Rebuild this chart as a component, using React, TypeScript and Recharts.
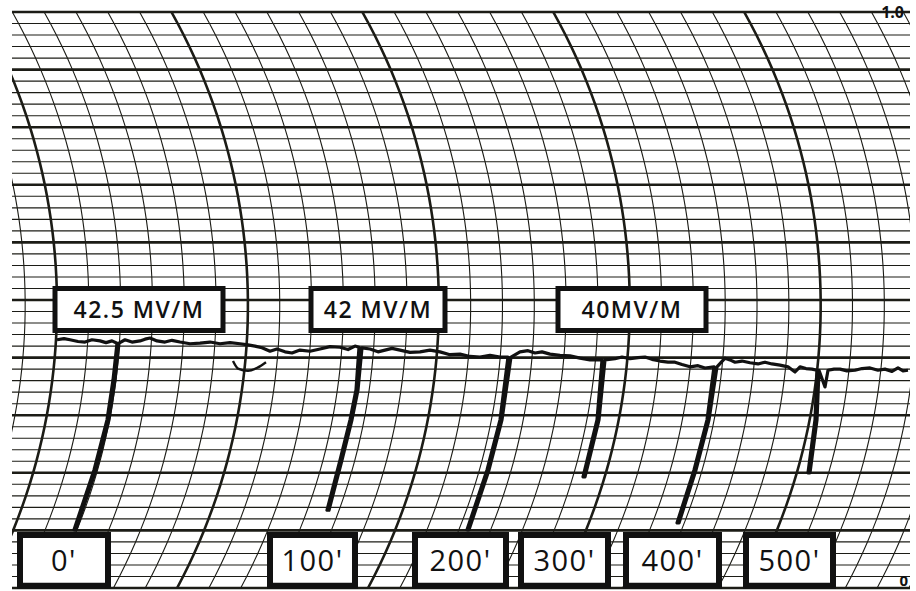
import React from 'react';
import { LineChart, Line, XAxis, YAxis, ReferenceLine, ReferenceArea } from 'recharts';

// strip position along the chart (0..898) and pen deflection (0 .. 1.0)
const traceX = [
  45, 52, 58, 66, 73, 80, 88, 94, 100,
  105, 101, 95, 82, 62,
  64, 84, 97, 103, 107,
  113, 120, 128, 133, 138, 145, 153, 160, 168, 178, 188, 198, 208, 218, 228, 236, 243, 250, 258, 265, 273, 280, 288, 298, 308, 318, 328, 336, 343,
  347, 344, 338, 328, 315,
  317, 330, 340, 346, 350,
  358, 366, 373, 380, 388, 398, 408, 418, 428, 438, 448, 458, 468, 478, 488,
  496, 488, 475, 455,
  457, 477, 490, 499,
  508, 516, 523, 530, 538, 548, 558, 568, 578,
  590, 585, 571,
  573, 587, 593,
  603, 610, 618, 626, 633, 640, 648, 656, 663, 670, 678, 686, 693,
  702, 695, 682, 665,
  667, 684, 697, 705,
  713, 718, 723, 730, 738, 746, 753, 760, 768, 776, 783, 788, 794, 800,
  805, 803, 796,
  798, 805, 807, 813, 816,
  822, 828, 835, 843, 850, 858, 866, 873, 880, 886, 891, 896,
];
const traceV = [
  0.431, 0.433, 0.431, 0.428, 0.427, 0.431, 0.429, 0.426, 0.429,
  0.425, 0.361, 0.292, 0.205, 0.101,
  0.101, 0.205, 0.292, 0.361, 0.425,
  0.431, 0.427, 0.429, 0.432, 0.434, 0.429, 0.427, 0.43, 0.427, 0.424, 0.425, 0.427, 0.424, 0.426, 0.424, 0.422, 0.42, 0.417, 0.411, 0.415, 0.41, 0.408, 0.413, 0.411, 0.415, 0.419, 0.418, 0.414, 0.42,
  0.418, 0.344, 0.292, 0.222, 0.135,
  0.135, 0.222, 0.292, 0.344, 0.417,
  0.415, 0.41, 0.413, 0.416, 0.413, 0.409, 0.41, 0.413, 0.41, 0.405, 0.406, 0.402, 0.401, 0.404, 0.401,
  0.401, 0.292, 0.205, 0.101,
  0.101, 0.205, 0.292, 0.401,
  0.41, 0.412, 0.408, 0.41, 0.406, 0.404, 0.403, 0.399, 0.396,
  0.396, 0.292, 0.193,
  0.193, 0.292, 0.396,
  0.398, 0.401, 0.398, 0.4, 0.401, 0.397, 0.394, 0.392, 0.392, 0.388, 0.384, 0.386, 0.382,
  0.384, 0.292, 0.205, 0.113,
  0.113, 0.205, 0.292, 0.384,
  0.399, 0.396, 0.392, 0.394, 0.391, 0.389, 0.392, 0.389, 0.387, 0.384, 0.375, 0.384, 0.381, 0.38,
  0.378, 0.292, 0.2,
  0.2, 0.292, 0.378, 0.349, 0.378,
  0.38, 0.38, 0.377, 0.378, 0.381, 0.382, 0.378, 0.38, 0.376, 0.382, 0.377, 0.378,
];

// small stray pen loop under the trace
const blipX = [221, 226, 236, 246, 254];
const blipV = [0.394, 0.381, 0.377, 0.383, 0.392];

const fieldLabels = ['42.5 MV/M', '42 MV/M', '40MV/M'];
const fieldFrom = [43, 299, 546];
const fieldTo = [211, 433, 694];

const distanceLabels = ["0'", "100'", "200'", "300'", "400'", "500'"];
const distanceFrom = [8, 258, 403, 509, 614, 734];
const distanceTo = [96, 343, 494, 596, 707, 821];

// chart paper
const W = 916;
const H = 591;
const M = { top: 12, right: 6, bottom: 3, left: 12 };
const X_MAX = 898;
const PLOT_W = W - M.left - M.right;
const PLOT_H = H - M.top - M.bottom;
const PEN_RADIUS = 600; // px, pen arm length
const PIVOT_V = 0.491;
const FIRST_TIMELINE = 45;
const TIMELINE_STEP = 31.82;

const minorTicks = Array.from({ length: 51 }, (_, i) => Math.round(i * 2) / 100);
const majorTicks = minorTicks.filter((_, i) => i % 5 === 0);

const paper = '#1c1c16';
const font = '"Open Sans", "DejaVu Sans", sans-serif';

function timeline(vertex: number) {
  const xpx = PLOT_W / X_MAX;
  return minorTicks.map((v) => {
    const dy = (v - PIVOT_V) * PLOT_H;
    const drop = PEN_RADIUS - Math.sqrt(PEN_RADIUS * PEN_RADIUS - dy * dy);
    return { x: vertex - drop / xpx, v };
  });
}

const timelines = Array.from({ length: 31 }, (_, i) => {
  const k = i - 1;
  return { k, thick: ((k % 6) + 6) % 6 === 0, pts: timeline(FIRST_TIMELINE + k * TIMELINE_STEP) };
});

const trace = traceX.map((x, i) => ({ x, v: traceV[i] }));
const blip = blipX.map((x, i) => ({ x, v: blipV[i] }));

export default function App() {
  return (
    <div style={{ position: 'absolute', left: 0, top: 0, width: W, height: H, background: '#fff' }}>
      <LineChart width={W} height={H} margin={M}>
        <XAxis type="number" dataKey="x" domain={[0, X_MAX]} allowDataOverflow hide />
        <YAxis type="number" dataKey="v" domain={[0, 1]} allowDataOverflow hide />

        {minorTicks.map((t, i) =>
          i % 5 === 0 ? null : (
            <ReferenceLine key={`h-${t}`} y={t} stroke={paper} strokeWidth={1.1} zIndex={0} />
          )
        )}
        {majorTicks.map((t) => (
          <ReferenceLine key={`H-${t}`} y={t} stroke={paper} strokeWidth={2.6} zIndex={1} />
        ))}
        {timelines.map((tl) => (
          <Line
            key={`t-${tl.k}`}
            data={tl.pts}
            dataKey="v"
            type="linear"
            stroke={paper}
            strokeWidth={tl.thick ? 2.6 : 1.1}
            dot={false}
            activeDot={false}
            isAnimationActive={false}
            zIndex={2}
          />
        ))}

        <ReferenceLine
          y={1}
          stroke="none"
          zIndex={3}
          label={{ value: '1.0', position: 'insideRight', offset: 6, fill: '#111', fontSize: 16, fontWeight: 700, fontFamily: font }}
        />
        <ReferenceLine
          y={0}
          stroke="none"
          zIndex={3}
          label={{ value: '0', position: 'insideBottomRight', offset: 2, fill: '#111', fontSize: 15, fontWeight: 700, fontFamily: font }}
        />

        <Line
          data={blip}
          dataKey="v"
          type="monotone"
          stroke="#111"
          strokeWidth={2.4}
          dot={false}
          activeDot={false}
          isAnimationActive={false}
          zIndex={4}
        />
        <Line
          data={trace}
          dataKey="v"
          type="linear"
          stroke="#111"
          strokeWidth={3.2}
          strokeLinejoin="round"
          dot={false}
          activeDot={false}
          isAnimationActive={false}
          zIndex={5}
        />

        {fieldLabels.map((lab, i) => (
          <ReferenceArea
            key={lab}
            x1={fieldFrom[i]}
            x2={fieldTo[i]}
            y1={0.447}
            y2={0.52}
            fill="#fff"
            fillOpacity={1}
            stroke="#111"
            strokeWidth={5}
            zIndex={10}
            label={{ value: lab, position: 'center', fill: '#111', fontSize: 23, fontWeight: 600, fontFamily: font, letterSpacing: 1.5 }}
          />
        ))}
        {distanceLabels.map((lab, i) => (
          <ReferenceArea
            key={lab}
            x1={distanceFrom[i]}
            x2={distanceTo[i]}
            y1={0.004}
            y2={0.092}
            fill="#fff"
            fillOpacity={1}
            stroke="#111"
            strokeWidth={6}
            zIndex={10}
            label={{ value: lab, position: 'center', fill: '#111', fontSize: 29, fontWeight: 500, fontFamily: font, letterSpacing: 1.5 }}
          />
        ))}
      </LineChart>
    </div>
  );
}
